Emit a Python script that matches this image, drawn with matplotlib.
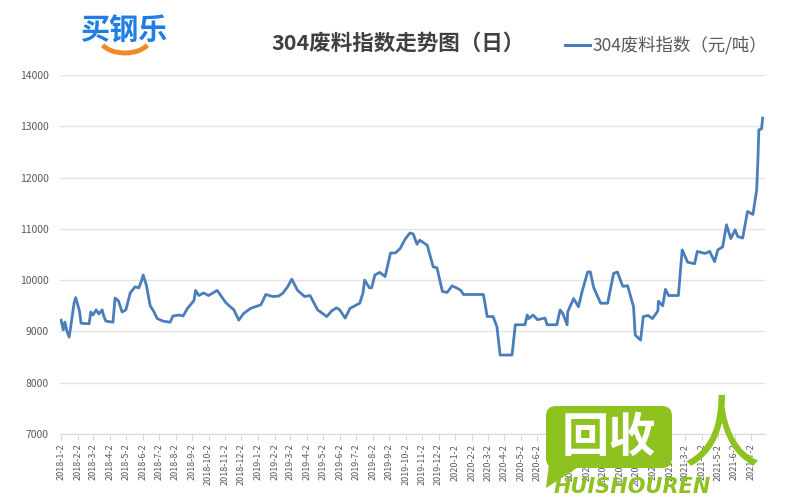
import matplotlib
matplotlib.use("Agg")
import matplotlib.pyplot as plt
from matplotlib.patches import Arc, FancyBboxPatch, Polygon
import pandas as pd

plt.rcParams['font.family'] = ['Noto Sans CJK SC', 'DejaVu Sans']

# values (元/吨)
dates = [
    "2018-01-02", "2018-01-06", "2018-01-09", "2018-01-13", "2018-01-17", "2018-01-20",
    "2018-01-26", "2018-01-29", "2018-02-05", "2018-02-08", "2018-02-23", "2018-02-26",
    "2018-03-02", "2018-03-08", "2018-03-13", "2018-03-19", "2018-03-22", "2018-03-26",
    "2018-04-08", "2018-04-12", "2018-04-18", "2018-04-25", "2018-05-02", "2018-05-10",
    "2018-05-19", "2018-05-26", "2018-05-30", "2018-06-03", "2018-06-09", "2018-06-16",
    "2018-06-22", "2018-06-29", "2018-07-10", "2018-07-23", "2018-07-28", "2018-08-09",
    "2018-08-16", "2018-08-24", "2018-09-05", "2018-09-08", "2018-09-14", "2018-09-23",
    "2018-10-02", "2018-10-18", "2018-11-03", "2018-11-18", "2018-11-27", "2018-12-06",
    "2018-12-19", "2019-01-07", "2019-01-16", "2019-01-29", "2019-02-09", "2019-02-17",
    "2019-02-26", "2019-03-05", "2019-03-16", "2019-03-29", "2019-04-08", "2019-04-13",
    "2019-04-22", "2019-05-09", "2019-05-18", "2019-05-27", "2019-06-02", "2019-06-12",
    "2019-06-21", "2019-06-30", "2019-07-09", "2019-07-15", "2019-07-18", "2019-07-27",
    "2019-07-31", "2019-08-06", "2019-08-15", "2019-08-25", "2019-09-04", "2019-09-13",
    "2019-09-22", "2019-10-01", "2019-10-10", "2019-10-16", "2019-10-23", "2019-10-28",
    "2019-11-11", "2019-11-22", "2019-11-29", "2019-12-09", "2019-12-18", "2019-12-27",
    "2020-01-06", "2020-01-12", "2020-01-17", "2020-02-23", "2020-03-01", "2020-03-12",
    "2020-03-19", "2020-03-25", "2020-04-16", "2020-04-22", "2020-05-10", "2020-05-14",
    "2020-05-17", "2020-05-25", "2020-06-02", "2020-06-16", "2020-06-20", "2020-07-08",
    "2020-07-14", "2020-07-19", "2020-07-27", "2020-07-28", "2020-08-08", "2020-08-17",
    "2020-08-24", "2020-09-03", "2020-09-08", "2020-09-14", "2020-09-27", "2020-10-10",
    "2020-10-21", "2020-10-28", "2020-11-07", "2020-11-16", "2020-11-27", "2020-11-30",
    "2020-12-10", "2020-12-15", "2020-12-24", "2021-01-01", "2021-01-11", "2021-01-12",
    "2021-01-20", "2021-01-25", "2021-01-31", "2021-02-18", "2021-02-25", "2021-03-01",
    "2021-03-07", "2021-03-20", "2021-03-25", "2021-04-08", "2021-04-17", "2021-04-26",
    "2021-05-02", "2021-05-11", "2021-05-18", "2021-05-26", "2021-06-03", "2021-06-08",
    "2021-06-17", "2021-06-26", "2021-07-06", "2021-07-13", "2021-07-15", "2021-07-17",
    "2021-07-22", "2021-07-24",
]
index_values = [
    9220, 9030, 9180, 9000, 8890, 9100,
    9550, 9660, 9400, 9160, 9150, 9380,
    9320, 9420, 9340, 9420, 9300, 9200,
    9180, 9650, 9600, 9380, 9420, 9750,
    9870, 9850, 9960, 10100, 9900, 9500,
    9400, 9250, 9200, 9180, 9300, 9320,
    9300, 9450, 9600, 9800, 9700, 9750,
    9700, 9800, 9560, 9420, 9220, 9350,
    9450, 9520, 9720, 9680, 9690, 9750,
    9880, 10020, 9800, 9680, 9700, 9600,
    9420, 9290, 9400, 9460, 9420, 9260,
    9450, 9500, 9550, 9750, 10000, 9850,
    9850, 10100, 10150, 10070, 10530, 10530,
    10620, 10800, 10920, 10900, 10700, 10780,
    10680, 10260, 10240, 9780, 9760, 9890,
    9840, 9800, 9720, 9720, 9290, 9290,
    9090, 8540, 8540, 9130, 9130, 9320,
    9250, 9320, 9230, 9260, 9130, 9130,
    9420, 9350, 9130, 9380, 9640, 9480,
    9790, 10160, 10160, 9860, 9550, 9550,
    10130, 10160, 9880, 9890, 9480, 8930,
    8830, 9290, 9310, 9250, 9400, 9590,
    9500, 9820, 9700, 9700, 10590, 10500,
    10350, 10320, 10560, 10520, 10560, 10360,
    10590, 10650, 11080, 10810, 10980, 10850,
    10820, 11340, 11280, 11760, 12280, 12930,
    12950, 13160,
]

title = "304废料指数走势图（日）"
series_name = "304废料指数（元/吨）"
y_ticks = [7000, 8000, 9000, 10000, 11000, 12000, 13000, 14000]
tick_dates = pd.date_range("2018-01-01", "2021-07-01", freq="MS") + pd.Timedelta(days=1)

x = pd.to_datetime(dates)

fig = plt.figure(figsize=(8, 5), dpi=100)
ax = fig.add_axes([0.075, 0.132, 0.881, 0.718])

line_color = '#4a7ebb'
ax.plot(x, index_values, color=line_color, linewidth=2.0)

ax.set_ylim(7000, 14000)
ax.set_yticks(y_ticks)
ax.set_xlim(pd.Timestamp("2017-12-31"), pd.Timestamp("2021-07-28"))
ax.set_xticks(tick_dates)
ax.set_xticklabels([f"{d.year}-{d.month}-{d.day}" for d in tick_dates],
                   rotation=90, fontsize=6.5, color='#595959')
ax.tick_params(axis='y', length=0, labelsize=7.5, labelcolor='#595959', pad=8)
ax.tick_params(axis='x', length=4, color='#d9d9d9', pad=3)

ax.grid(axis='y', color='#e3e3e3', linewidth=1)
ax.set_axisbelow(True)
for side in ['top', 'right', 'left']:
    ax.spines[side].set_visible(False)
ax.spines['bottom'].set_color('#d9d9d9')

# title and legend in the header
fig.text(0.497, 0.913, title, ha='center', va='center', fontsize=15.5,
         fontweight='bold', color='#404040')
deco = fig.add_axes([0, 0, 1, 1], zorder=5)
deco.set_xlim(0, 800)
deco.set_ylim(500, 0)
deco.axis('off')
deco.plot([565, 590], [45, 45], color=line_color, linewidth=2.2)
deco.text(592, 45, series_name, ha='left', va='center', fontsize=12.5, color='#595959')

# logo top-left
deco.text(125, 31, "买钢乐", ha='center', va='center', fontsize=21,
          color='#1e7ee6', fontweight='bold')
deco.add_patch(Arc((125, 37), 52, 32, theta1=20, theta2=160, color='#f08a24', linewidth=3.5))

# watermark bottom-right
green = '#8dc21f'
deco.add_patch(FancyBboxPatch((548, 408), 122, 58, boxstyle="round,pad=2,rounding_size=10",
                              color=green, linewidth=0))
deco.add_patch(Polygon([[550, 455], [546, 488], [580, 466]], closed=True, color=green, linewidth=0))
deco.text(609, 438, "回收", ha='center', va='center', fontsize=34, color='white', fontweight='bold')
deco.text(722, 438, "人", ha='center', va='center', fontsize=56, color=green)
deco.text(632, 487, "HUISHOUREN", ha='center', va='center', fontsize=15, color=green,
          fontweight='bold', style='italic', family='DejaVu Sans')

fig.savefig("out.png", dpi=100)
